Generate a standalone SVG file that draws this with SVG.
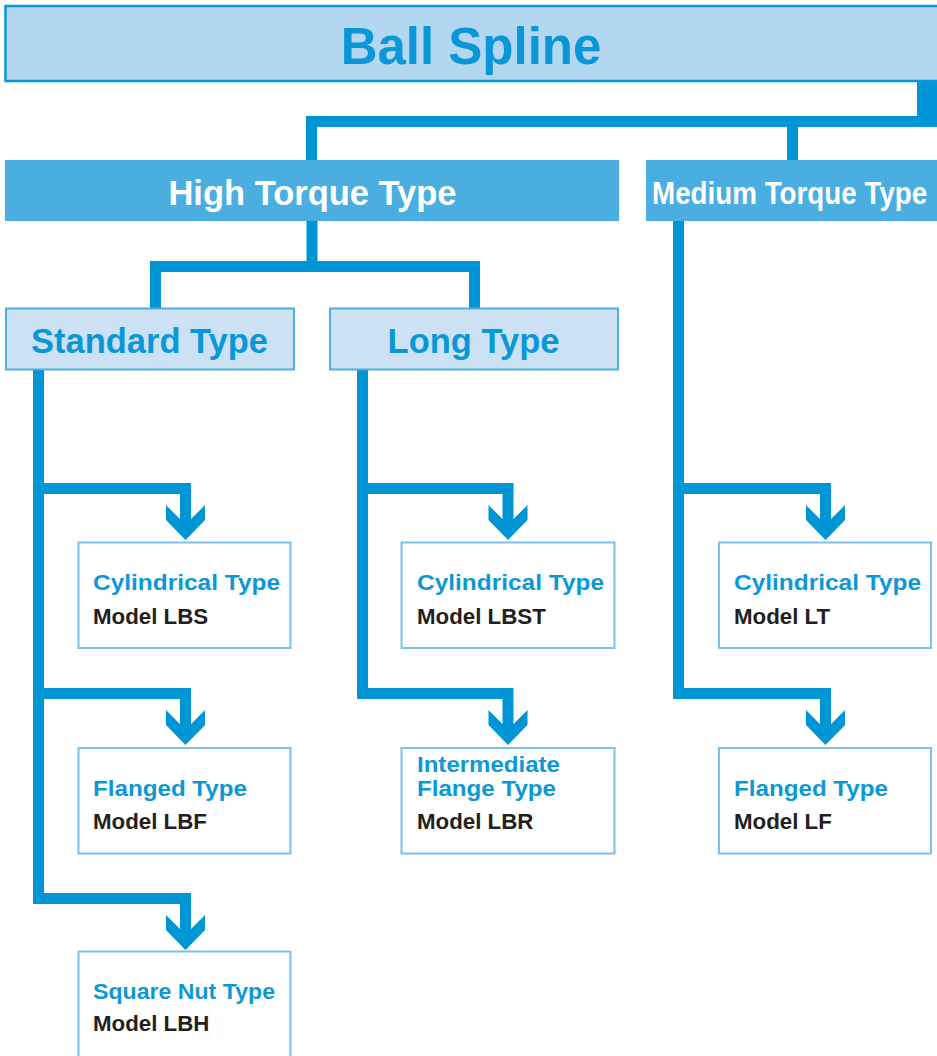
<svg xmlns="http://www.w3.org/2000/svg" xmlns:xlink="http://www.w3.org/1999/xlink" width="937" height="1056" viewBox="0 0 937 1056">
<style>
.t{font-family:"Liberation Sans",Arial,sans-serif;font-weight:bold}
.big{font-size:51px;fill:#0a97d8;text-anchor:middle}
.l1{font-size:34.5px;fill:#ffffff}
.l2{font-size:34.5px;fill:#0a97d8;text-anchor:middle}
.ti{font-size:22.5px;fill:#0b98d7}
.mo{font-size:22.3px;fill:#231f20}
.c{fill:none;stroke:#0096d6;stroke-width:11;stroke-linejoin:miter;stroke-linecap:butt}
.leaf{fill:#ffffff;stroke:#7cc1ec;stroke-width:2}
.sub{fill:#cce2f4;stroke:#4daee2;stroke-width:2}
</style>
<defs>
<path id="arr" d="M-19.5,-35 L-5.5,-21 L5.5,-21 L19.5,-35 L19.5,-20 L0,0 L-19.5,-20 Z" fill="#0096d6"/>
</defs>
<g id="connectors">
<rect x="917" y="80" width="20" height="47" fill="#0096d6"/>
<rect x="306" y="116" width="631" height="11" fill="#0096d6"/>
<rect x="306" y="127" width="11" height="34" fill="#0096d6"/>
<rect x="787" y="127" width="11" height="34" fill="#0096d6"/>
<path class="c" d="M312,220 V266.5"/>
<path class="c" d="M155.5,309 V266.5 H474.5 V309"/>
<path class="c" d="M38.5,369 V898.5 H185.5 V931"/>
<path class="c" d="M38.5,488.5 H185.5 V521"/>
<path class="c" d="M38.5,693.5 H185.5 V726"/>
<path class="c" d="M362.5,369 V693.5 H508 V726"/>
<path class="c" d="M362.5,488.5 H508 V521"/>
<path class="c" d="M678.5,220 V693.5 H825.5 V726"/>
<path class="c" d="M678.5,488.5 H825.5 V521"/>
<use xlink:href="#arr" x="185.5" y="540"/>
<use xlink:href="#arr" x="185.5" y="745"/>
<use xlink:href="#arr" x="185.5" y="950"/>
<use xlink:href="#arr" x="508" y="540"/>
<use xlink:href="#arr" x="508" y="745"/>
<use xlink:href="#arr" x="825.5" y="540"/>
<use xlink:href="#arr" x="825.5" y="745"/>
</g>
<g id="ball-spline">
<rect x="5.5" y="6" width="940" height="75" fill="#b4d7f1" stroke="#0a97d8" stroke-width="2.5"/>
<text class="t big" x="471" y="64">Ball Spline</text>
</g>
<g id="high-torque">
<rect x="5" y="160" width="614" height="61" fill="#4aaee0"/>
<text class="t l1" x="312.5" y="205" text-anchor="middle">High Torque Type</text>
</g>
<g id="medium-torque">
<rect x="646" y="160" width="291" height="61" fill="#4aaee0"/>
<text class="t" transform="translate(652,204) scale(1,1.15)" x="0" y="0" font-size="27.8" fill="#ffffff">Medium Torque Type</text>
</g>
<g id="standard">
<rect class="sub" x="6" y="308.5" width="288" height="61"/>
<text class="t l2" x="149.5" y="352.5">Standard Type</text>
</g>
<g id="long">
<rect class="sub" x="330" y="308.5" width="288" height="61"/>
<text class="t l2" x="473.5" y="352.5">Long Type</text>
</g>
<g id="lbs">
<rect class="leaf" x="78.5" y="542.5" width="212" height="105.5"/>
<text class="t ti" x="93" y="590" textLength="187" lengthAdjust="spacingAndGlyphs">Cylindrical Type</text>
<text class="t mo" x="93" y="624">Model LBS</text>
</g>
<g id="lbf">
<rect class="leaf" x="78.5" y="748" width="212" height="105.5"/>
<text class="t ti" x="93" y="795.5" textLength="154" lengthAdjust="spacingAndGlyphs">Flanged Type</text>
<text class="t mo" x="93" y="829">Model LBF</text>
</g>
<g id="lbh">
<rect class="leaf" x="78.5" y="951.5" width="212" height="110"/>
<text class="t ti" x="93" y="998.5" textLength="182" lengthAdjust="spacingAndGlyphs">Square Nut Type</text>
<text class="t mo" x="93" y="1031">Model LBH</text>
</g>
<g id="lbst">
<rect class="leaf" x="401.5" y="542.5" width="213" height="105.5"/>
<text class="t ti" x="417" y="590" textLength="187" lengthAdjust="spacingAndGlyphs">Cylindrical Type</text>
<text class="t mo" x="417" y="624">Model LBST</text>
</g>
<g id="lbr">
<rect class="leaf" x="401.5" y="748" width="213" height="105.5"/>
<text class="t ti" x="417" y="771.5" textLength="143" lengthAdjust="spacingAndGlyphs">Intermediate</text>
<text class="t ti" x="417" y="795.5" textLength="139" lengthAdjust="spacingAndGlyphs">Flange Type</text>
<text class="t mo" x="417" y="828.5">Model LBR</text>
</g>
<g id="lt">
<rect class="leaf" x="719" y="542.5" width="212" height="105.5"/>
<text class="t ti" x="734" y="590" textLength="187" lengthAdjust="spacingAndGlyphs">Cylindrical Type</text>
<text class="t mo" x="734" y="624">Model LT</text>
</g>
<g id="lf">
<rect class="leaf" x="719" y="748" width="212" height="105.5"/>
<text class="t ti" x="734" y="795.5" textLength="154" lengthAdjust="spacingAndGlyphs">Flanged Type</text>
<text class="t mo" x="734" y="829">Model LF</text>
</g>
</svg>
